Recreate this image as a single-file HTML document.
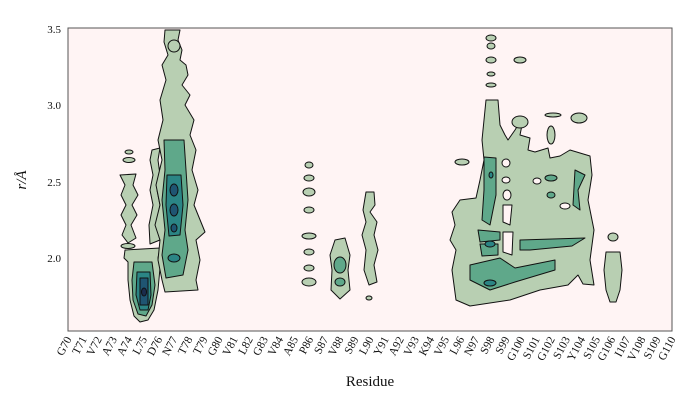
<!DOCTYPE html>
<html><head><meta charset="utf-8"><style>
html,body{margin:0;padding:0;background:#fff;}
svg{display:block;}
text{font-family:"Liberation Serif",serif;fill:#111;}
</style></head><body>
<svg width="700" height="400" viewBox="0 0 700 400" xmlns="http://www.w3.org/2000/svg">
<rect x="68" y="28" width="604" height="303" fill="#fff4f4"/>
<g stroke="#111" stroke-width="1" stroke-linejoin="round">
<g fill="#b8cfb2">
<path d="M120,175 L136,174 L133,185 L138,195 L132,205 L137,215 L131,225 L136,238 L128,243 L122,235 L126,225 L121,215 L126,205 L121,195 L125,185 Z"/>
<ellipse cx="129" cy="160" rx="6" ry="2.5"/><ellipse cx="129" cy="152" rx="4" ry="2"/>
<ellipse cx="128" cy="246" rx="7" ry="2.5"/>
<path d="M125,250 L160,248 L158,258 L160,268 L158,290 L154,310 L148,320 L140,322 L134,316 L130,300 L128,280 L128,262 L124,258 Z"/>
<path d="M152,150 L160,148 L158,160 L160,175 L157,190 L160,205 L156,225 L160,240 L150,244 L149,225 L153,205 L150,190 L153,175 L150,160 Z"/>
<path d="M165,30 L180,30 L178,40 L182,50 L180,60 L186,65 L188,75 L182,85 L190,95 L185,105 L194,120 L190,135 L196,150 L192,170 L198,190 L194,205 L205,232 L196,240 L200,260 L196,280 L198,290 L165,292 L162,280 L158,260 L160,240 L155,225 L160,205 L156,185 L162,160 L158,140 L163,120 L160,100 L166,80 L162,65 L168,55 L164,42 Z"/>
<ellipse cx="174" cy="46" rx="6" ry="6" />
</g>
<g fill="#5fa88a">
<path d="M134,262 L152,262 L155,285 L152,305 L146,316 L138,314 L133,300 L132,280 Z"/>
<path d="M164,140 L184,140 L186,170 L188,200 L185,230 L188,250 L183,275 L166,278 L162,255 L165,230 L162,200 L165,170 Z"/>
</g>
<g fill="#2b8585">
<path d="M137,272 L150,272 L151,295 L148,310 L140,310 L136,295 Z"/>
<path d="M167,175 L181,175 L183,205 L180,235 L169,236 L166,205 Z"/>
<ellipse cx="174" cy="258" rx="6" ry="4"/>
</g>
<g fill="#1f5572">
<path d="M140,278 L148,278 L148,305 L140,305 Z"/>
<ellipse cx="174" cy="190" rx="4" ry="6"/><ellipse cx="174" cy="210" rx="4" ry="6"/><ellipse cx="174" cy="228" rx="3" ry="4"/>
</g>
<ellipse cx="144" cy="292" rx="2.5" ry="4" fill="#1a2c4d"/>
<g fill="#b8cfb2">
<ellipse cx="309" cy="165" rx="4" ry="3"/><ellipse cx="309" cy="178" rx="5" ry="3"/><ellipse cx="309" cy="192" rx="6" ry="4"/><ellipse cx="309" cy="210" rx="5" ry="3"/><ellipse cx="309" cy="236" rx="7" ry="3"/><ellipse cx="309" cy="252" rx="5" ry="3"/><ellipse cx="309" cy="268" rx="5" ry="3"/><ellipse cx="309" cy="282" rx="7" ry="4"/>
<path d="M335,240 L345,238 L350,255 L348,270 L350,290 L340,299 L331,290 L332,270 L330,255 Z"/>
<path d="M366,192 L374,192 L375,205 L370,212 L377,222 L374,235 L378,250 L374,265 L377,282 L369,285 L364,270 L366,250 L362,235 L366,222 L363,210 Z"/>
<ellipse cx="369" cy="298" rx="3" ry="2"/>
<ellipse cx="613" cy="237" rx="5" ry="4"/>
<path d="M606,252 L620,252 L622,270 L620,290 L616,302 L610,302 L606,290 L604,270 Z"/>
</g>
<g fill="#5fa88a"><ellipse cx="340" cy="265" rx="6" ry="8"/><ellipse cx="340" cy="282" rx="5" ry="4"/></g>
<g fill="#b8cfb2">
<path d="M486,100 L498,100 L500,125 L505,135 L508,140 L515,130 L518,125 L523,120 L520,135 L530,138 L528,150 L535,152 L548,148 L550,158 L560,156 L570,150 L590,156 L592,175 L588,200 L594,230 L590,260 L594,285 L583,284 L578,275 L568,285 L540,290 L510,300 L470,306 L456,300 L452,270 L456,250 L450,240 L455,225 L452,212 L460,200 L476,198 L480,180 L484,160 L482,140 L484,120 Z"/>
<ellipse cx="491" cy="38" rx="5" ry="3"/><ellipse cx="491" cy="46" rx="4" ry="3"/><ellipse cx="491" cy="60" rx="5" ry="3"/><ellipse cx="491" cy="74" rx="4" ry="2"/><ellipse cx="491" cy="85" rx="5" ry="2"/>
<ellipse cx="520" cy="60" rx="6" ry="3"/><ellipse cx="520" cy="122" rx="8" ry="6"/>
<ellipse cx="553" cy="115" rx="8" ry="2"/><ellipse cx="551" cy="135" rx="4" ry="9"/><ellipse cx="579" cy="118" rx="8" ry="5"/>
<ellipse cx="462" cy="162" rx="7" ry="3"/>
</g>
<g fill="#5fa88a">
<path d="M484,157 L496,158 L496,195 L490,225 L482,220 L484,190 Z"/>
<path d="M478,230 L500,232 L500,240 L480,242 Z"/>
<path d="M480,244 L498,244 L498,255 L482,256 Z"/>
<path d="M470,265 L500,258 L515,268 L555,260 L555,270 L515,282 L490,290 L470,280 Z"/>
<path d="M520,240 L585,238 L572,246 L530,250 L520,250 Z"/>
<path d="M575,170 L585,175 L578,190 L580,210 L573,205 Z"/>
<ellipse cx="551" cy="178" rx="6" ry="3"/><ellipse cx="551" cy="195" rx="4" ry="3"/>
</g>
<g fill="#2b8585"><ellipse cx="490" cy="244" rx="5" ry="3"/><ellipse cx="490" cy="283" rx="6" ry="3"/><ellipse cx="491" cy="175" rx="2" ry="3"/></g>
<g fill="#fff4f4">
<ellipse cx="506" cy="163" rx="4" ry="4"/><ellipse cx="506" cy="180" rx="4" ry="3"/><ellipse cx="507" cy="195" rx="4" ry="5"/>
<path d="M503,205 L512,205 L510,225 L503,222 Z"/><path d="M503,232 L513,232 L512,255 L503,252 Z"/>
<ellipse cx="537" cy="181" rx="4" ry="3"/><ellipse cx="565" cy="206" rx="5" ry="3"/>
</g>
</g>
<path d="M68,28 V331 H672 V28 Z" fill="none" stroke="#555" stroke-width="1"/>
<g font-size="11" text-anchor="end">
<text x="61" y="33">3.5</text><text x="61" y="109">3.0</text><text x="61" y="186">2.5</text><text x="61" y="262">2.0</text>
</g>
<text x="26" y="180" font-size="15" font-style="italic" transform="rotate(-90 26 180)" text-anchor="middle">r/Å</text>
<text x="370" y="386" font-size="15" text-anchor="middle">Residue</text>
<g font-size="11.5" text-anchor="end" id="xl"></g>
</svg>
<script>
var L="G70 T71 V72 A73 A74 L75 D76 N77 T78 T79 G80 V81 L82 G83 V84 A85 P86 S87 V88 S89 L90 Y91 A92 V93 K94 V95 L96 N97 S98 S99 G100 S101 G102 S103 Y104 S105 G106 I107 V108 S109 G110".split(" ");
var g=document.getElementById("xl"),s="";
for(var i=0;i<L.length;i++){var x=68+i*15.1+4,y=339;s+='<text x="'+x+'" y="'+y+'" transform="rotate(-62 '+x+' '+y+')">'+L[i]+'</text>';}
g.innerHTML=s;
</script>
</body></html>
